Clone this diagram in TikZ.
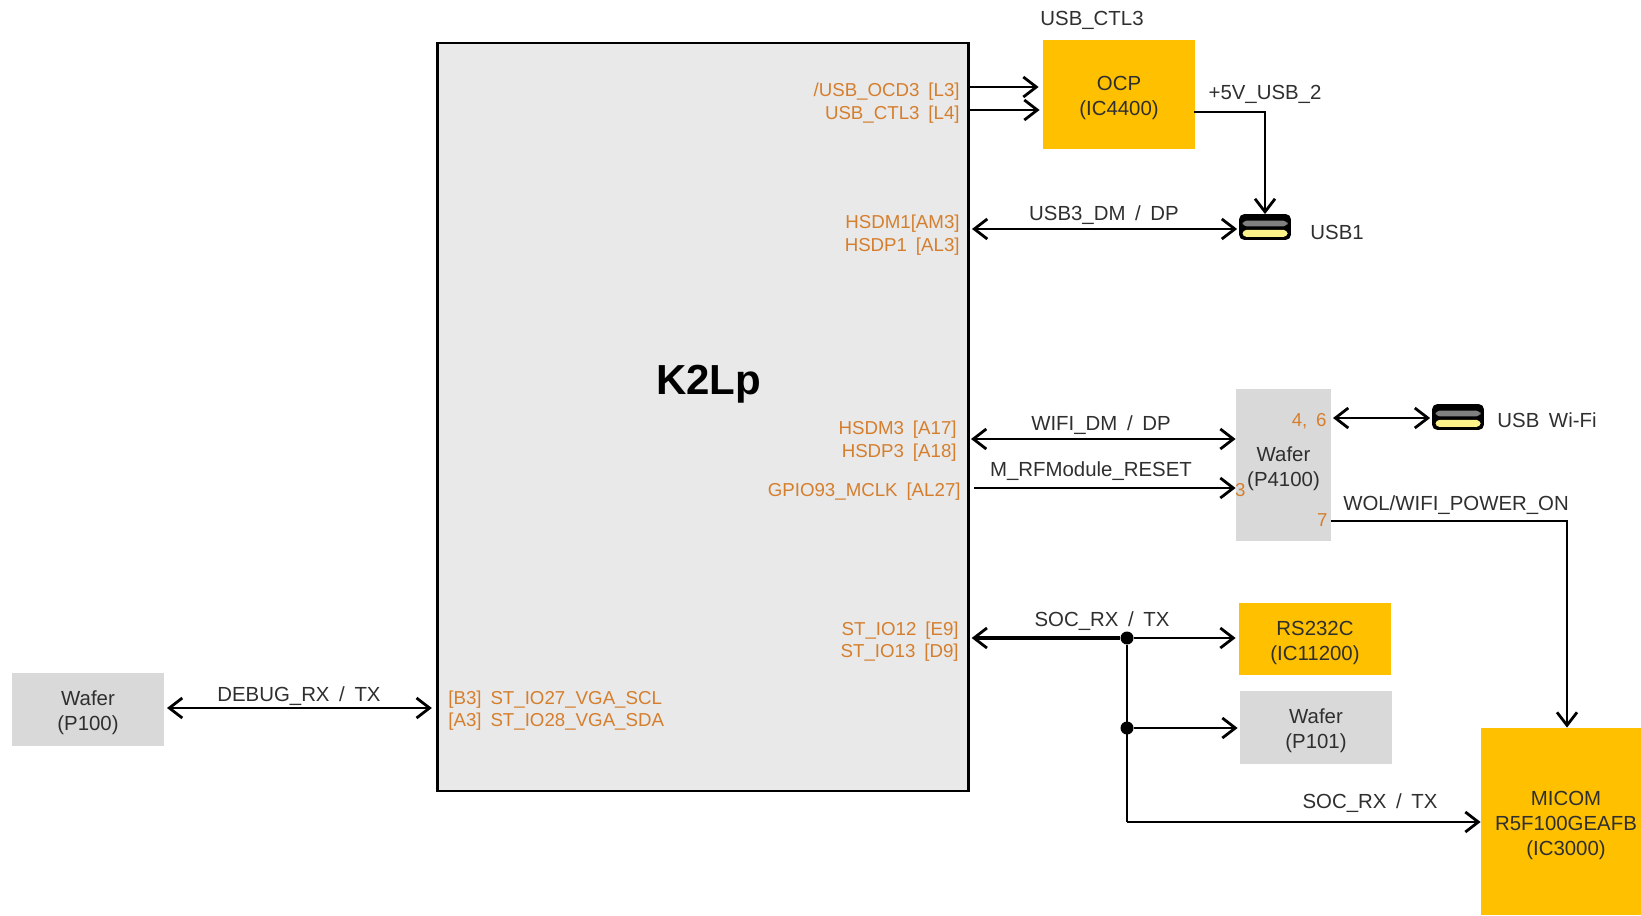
\documentclass[tikz,border=0pt]{standalone}
\usepackage{fontspec}
\setmainfont[WordSpace=1.7]{Liberation Sans}
\usetikzlibrary{arrows.meta,positioning,calc}
\definecolor{nodeamber}{HTML}{FFC000}
\definecolor{nodegrey}{HTML}{D9D9D9}
\definecolor{socgrey}{HTML}{E9E9E9}
\definecolor{pinorange}{HTML}{D57F2E}
\definecolor{netgrey}{HTML}{2F2F2F}
\definecolor{usbyellow}{HTML}{FBF38A}

\begin{document}
\begin{tikzpicture}[
  x=0.5pt,y=-0.5pt,
  >={Straight Barb[length=6.5pt,width=10pt,line width=1.4pt]},
  every node/.style={font=\fontsize{10.2}{12.5}\selectfont, text=netgrey, inner sep=0pt},
  wire/.style={line width=1.4pt, draw=black},
  ambox/.style={fill=nodeamber, align=center, execute at begin node={\rule{0pt}{23.5pt}}},
  greybox/.style={fill=nodegrey, align=center, execute at begin node={\rule{0pt}{23.5pt}}},
  pin/.style={text=pinorange, anchor=east, font=\fontsize{9.35}{11}\selectfont},
  pinleft/.style={text=pinorange, anchor=west, font=\fontsize{9.35}{11}\selectfont},
  net/.style={},
  dot/.style={circle, fill=black, minimum size=6.5pt},
  usbport/.style={draw=black, line width=1.4pt, rounded corners=2pt, minimum width=24.5pt, minimum height=11.5pt,
    path picture={
      \fill[black] (path picture bounding box.north west) rectangle (path picture bounding box.south east);
      \fill[gray] ($(path picture bounding box.north west)+(1pt,-2.6pt)$) rectangle ($(path picture bounding box.north east)+(-1pt,-5.4pt)$);
      \fill[usbyellow] ($(path picture bounding box.south west)+(1pt,0.8pt)$) rectangle ($(path picture bounding box.south east)+(-1pt,4.3pt)$);
    }},
]
  \useasboundingbox (0,0) rectangle (1641,915);

  \node[fill=socgrey, draw=black, line width=1.4pt, minimum width=265.5pt, minimum height=374pt] (k2lp) at (702.75,417) {};
  \node[font=\fontsize{21}{24}\bfseries\selectfont, text=black] (k2lptitle) at (708.5,384) {K2Lp};

  \node[ambox, minimum width=76pt, minimum height=54.5pt] (ocp) at (1119,94.5) {OCP\\(IC4400)};
  \node[net] (ctl) at (1092,20) {USB\_CTL3};
  \node[usbport] (usba) at (1265,227) {};
  \node[net, anchor=west] (usbalabel) at (1310,232) {USB1};

  \node[greybox, minimum width=47.5pt, minimum height=76pt] (p4100) at (1283.5,465) {Wafer\\(P4100)};
  \node[usbport] (usbb) at (1458,417) {};
  \node[net, anchor=west] (usbblabel) at (1497,420) {USB Wi-Fi};
  \node[pin] (pinfoursix) at (1327,421) {4, 6};
  \node[pin] (pinthree) at (1246,490) {3};
  \node[pin] (pinseven) at (1328,520) {7};

  \node[ambox, minimum width=76pt, minimum height=36pt] (rs) at (1315,639) {RS232C\\(IC11200)};
  \node[greybox, minimum width=76pt, minimum height=36.5pt] (pa) at (1316,727.5) {Wafer\\(P101)};
  \node[greybox, minimum width=76pt, minimum height=36.5pt] (pb) at (88,709) {Wafer\\(P100)};
  \node[ambox, minimum width=80pt, minimum height=93.5pt, execute at begin node={}] (micom) at (1561,821.5) {};
  \node[net, align=center] (micomtext) at (1566,825) {MICOM\\R5F100GEAFB\\(IC3000)};

  \node[pin] (ocd) at (960,92) {/USB\_OCD3 [L3]};
  \node[pin] (ctlpin) at (960,115) {USB\_CTL3 [L4]};
  \node[pin] (hsdma) at (960,224) {HSDM1[AM3]};
  \node[pin] (hsdpa) at (960,247) {HSDP1 [AL3]};
  \node[pin] (hsdmb) at (957,430) {HSDM3 [A17]};
  \node[pin] (hsdpb) at (957,453) {HSDP3 [A18]};
  \node[pin] (gpio) at (961,492) {GPIO93\_MCLK [AL27]};
  \node[pin] (ioa) at (959,631) {ST\_IO12 [E9]};
  \node[pin] (iob) at (959,653) {ST\_IO13 [D9]};
  \node[pinleft] (sclpin) at (448,700) {[B3] ST\_IO27\_VGA\_SCL};
  \node[pinleft] (sdapin) at (448,722) {[A3] ST\_IO28\_VGA\_SDA};

  \node[net] (usbdp) at (1104,215) {USB3\_DM / DP};
  \node[net] (wifidp) at (1101,425) {WIFI\_DM / DP};
  \node[net] (rfreset) at (1091,471) {M\_RFModule\_RESET};
  \node[net] (socrx) at (1102,621) {SOC\_RX / TX};
  \node[net] (socrxb) at (1370,803) {SOC\_RX / TX};
  \node[net] (debug) at (299,696) {DEBUG\_RX / TX};
  \node[net] (vusb) at (1265,94) {+5V\_USB\_2};
  \node[net] (wol) at (1456,505) {WOL/WIFI\_POWER\_ON};

  \node[dot] (juna) at (1127,638) {};
  \node[dot] (junb) at (1127,728) {};
  \coordinate (ocdy) at (969,87);
  \coordinate (ctly) at (969,110);
  \coordinate (usby) at (969,229);
  \coordinate (wifiy) at (969,439);
  \coordinate (rfy) at (974,488);
  \coordinate (foury) at (1331,418);
  \coordinate (sevenstart) at (1331,521);
  \coordinate (vstart) at (1194,112);
  \coordinate (debugy) at (167,708);
  \coordinate (busy) at (1127,822);

  \draw[wire,->,shorten >=2pt] (ocdy) -- (ocp.west |- ocdy);
  \draw[wire,->,shorten >=1.5pt] (ctly) -- (ocp.west |- ctly);
  \draw[wire,->] (vstart) -| (usba.north);
  \draw[wire,<->,shorten <=1.5pt,shorten >=1pt] (usby) -- (usba.west |- usby);
  \draw[wire,<->,shorten <=1pt] (wifiy) -- (p4100.west |- wifiy);
  \draw[wire,->] (rfy) -- (p4100.west |- rfy);
  \draw[wire,<->,shorten <=1pt,shorten >=1pt] (foury) -- (usbb.west |- foury);
  \draw[wire,->] (sevenstart) -| ([xshift=3pt]micom.north);
  \draw[wire,<-,shorten <=1pt,line width=1.7pt] (k2lp.east |- juna) -- (juna);
  \draw[wire,->,shorten >=1.5pt] (juna) -- (rs.west |- juna);
  \draw[wire,->,shorten >=1pt] (junb) -- (pa.west |- junb);
  \draw[wire] (juna) -- (busy);
  \draw[wire,->] (busy) -- (micom.west |- busy);
  \draw[wire,<->,shorten >=2pt] (debugy) -- (k2lp.west |- debugy);
\end{tikzpicture}
\end{document}
